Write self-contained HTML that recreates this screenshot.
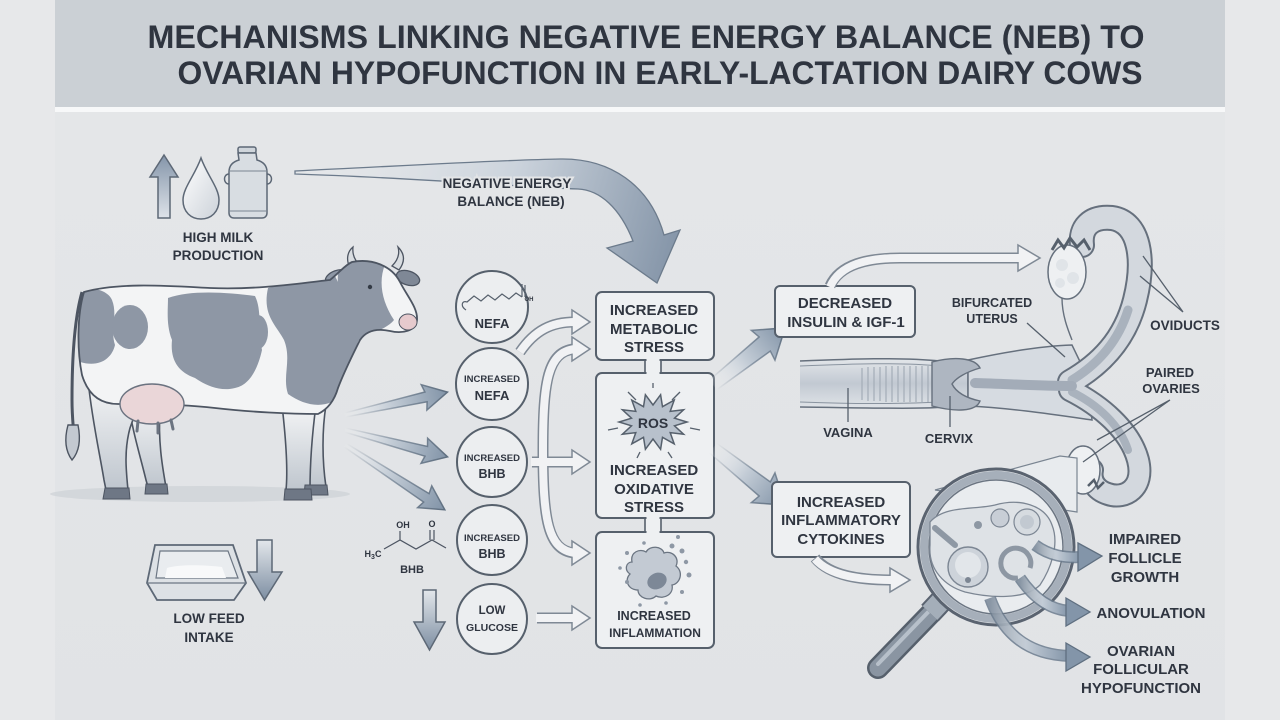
<!DOCTYPE html>
<html><head><meta charset="utf-8"><style>
html,body{margin:0;padding:0;background:#e6e7e9;}
svg{display:block;}
.t{font-family:"Liberation Sans",Arial,sans-serif;font-weight:bold;fill:#2f3540;text-anchor:middle;}
</style></head><body>
<svg width="1280" height="720" viewBox="0 0 1280 720" xmlns="http://www.w3.org/2000/svg">
<defs>
<linearGradient id="ag" x1="0" y1="0" x2="1" y2="0">
<stop offset="0" stop-color="#eef0f2" stop-opacity="0.1"/>
<stop offset="0.45" stop-color="#c3ccd6"/>
<stop offset="1" stop-color="#8193a7"/>
</linearGradient>
<linearGradient id="ags" x1="0" y1="0" x2="1" y2="0">
<stop offset="0" stop-color="#6b7b8d" stop-opacity="0"/>
<stop offset="0.5" stop-color="#6b7b8d" stop-opacity="0.7"/>
<stop offset="1" stop-color="#5f6f80"/>
</linearGradient>
<linearGradient id="negr" gradientUnits="userSpaceOnUse" x1="300" y1="170" x2="665" y2="270">
<stop offset="0" stop-color="#e6e9ec" stop-opacity="0.3"/>
<stop offset="0.55" stop-color="#cbd3dc"/>
<stop offset="1" stop-color="#8797aa"/>
</linearGradient>
<linearGradient id="vg" x1="0" y1="0" x2="0" y2="1">
<stop offset="0" stop-color="#8495a9"/>
<stop offset="1" stop-color="#dde2e8"/>
</linearGradient>
<linearGradient id="vgd" x1="0" y1="0" x2="0" y2="1">
<stop offset="0" stop-color="#e3e7eb"/>
<stop offset="1" stop-color="#7d8ea2"/>
</linearGradient>
<linearGradient id="dropg" x1="0" y1="0" x2="1" y2="1">
<stop offset="0" stop-color="#ffffff"/>
<stop offset="1" stop-color="#ccd2d9"/>
</linearGradient>
<linearGradient id="legg" x1="0" y1="0" x2="0" y2="1">
<stop offset="0" stop-color="#f4f5f6"/>
<stop offset="1" stop-color="#bfc6ce"/>
</linearGradient>
<linearGradient id="tubeg" x1="0" y1="0" x2="0" y2="1">
<stop offset="0" stop-color="#e3e6ea"/>
<stop offset="0.5" stop-color="#c2c9d2"/>
<stop offset="1" stop-color="#e0e4e8"/>
</linearGradient>
<linearGradient id="panel" x1="0" y1="0" x2="0" y2="1">
<stop offset="0" stop-color="#e4e6e8"/>
<stop offset="1" stop-color="#e1e3e6"/>
</linearGradient>
<clipPath id="cowclip"><path d="M84,292 C120,282 170,286 210,288 C260,290 300,283 330,280 C340,272 345,265 352,262 C372,258 392,266 400,282 C407,296 418,308 417,320 C416,331 402,334 390,331 C376,328 366,331 360,340 C352,356 344,372 338,388 C334,402 326,410 318,414 C290,414 250,412 215,408 C190,405 150,404 118,404 C100,404 88,395 82,375 C77,350 77,315 84,292 Z"/></clipPath>
</defs>

<!-- background -->
<rect x="0" y="0" width="1280" height="720" fill="#e7e8ea"/>
<rect x="55" y="112" width="1170" height="608" fill="url(#panel)"/>
<rect x="55" y="0" width="1170" height="107" fill="#cbd0d5"/>
<rect x="55" y="107" width="1170" height="5" fill="#f7f8f9"/>

<!-- title -->
<text class="t" x="646" y="48" font-size="32" textLength="997" lengthAdjust="spacingAndGlyphs" fill="#2e3540">MECHANISMS LINKING NEGATIVE ENERGY BALANCE (NEB) TO</text>
<text class="t" x="660" y="84" font-size="32" textLength="965" lengthAdjust="spacingAndGlyphs" fill="#2e3540">OVARIAN HYPOFUNCTION IN EARLY-LACTATION DAIRY COWS</text>

<!-- milk icons -->
<path d="M164,155 L178,177 L170,177 L170,218 L158,218 L158,177 L150,177 Z" fill="url(#vg)" stroke="#5d6876" stroke-width="1.5"/>
<path d="M201,158 C195,175 183,188 183,200 C183,212 191,219 201,219 C211,219 219,212 219,200 C219,188 207,175 201,158 Z" fill="url(#dropg)" stroke="#5d6876" stroke-width="1.5"/>
<rect x="238" y="147" width="18" height="6" rx="2" fill="#cfd5db" stroke="#5d6876" stroke-width="1.5"/>
<path d="M238,153 L256,153 L257,160 C264,162 267,166 267,172 L267,213 C267,216 265,218 262,218 L234,218 C231,218 229,216 229,213 L229,172 C229,166 232,162 239,160 Z" fill="#d8dde2" stroke="#5d6876" stroke-width="1.5"/>
<path d="M229,174 C223,174 223,184 229,184 M267,174 C273,174 273,184 267,184" fill="none" stroke="#5d6876" stroke-width="1.5"/>
<line x1="229" y1="171" x2="267" y2="171" stroke="#7a8591" stroke-width="1"/>
<line x1="229" y1="211" x2="267" y2="211" stroke="#7a8591" stroke-width="1"/>
<text class="t" x="218" y="242" font-size="13.5">HIGH MILK</text>
<text class="t" x="218" y="260" font-size="13.5">PRODUCTION</text>

<!-- NEB arrow -->
<path d="M295,171 C400,166 500,160 560,159 C610,158 650,185 664,235 L680,230 L657,283 L607,248 L633,241 C620,208 600,190 578,189 C520,187 420,178 295,174 Z" fill="url(#negr)" stroke="#6c7b8c" stroke-width="1.3"/>
<text class="t" x="507" y="188" font-size="13.5" stroke="#e3e5e7" stroke-width="4" paint-order="stroke">NEGATIVE ENERGY</text>
<text class="t" x="511" y="206" font-size="13.5">BALANCE (NEB)</text>

<!-- cow shadow -->
<ellipse cx="200" cy="494" rx="150" ry="8" fill="#cdd1d6" opacity="0.7"/>
<!-- cow legs -->
<g stroke="#4d5562" stroke-width="1.6" fill="url(#legg)">
<path d="M128,400 C132,430 140,455 146,480 L148,487 L166,487 C162,465 158,440 160,410 Z"/>
<path d="M300,405 C302,440 306,465 306,487 L326,487 C322,460 322,430 326,405 Z"/>
<path d="M88,380 C92,420 100,455 104,480 L106,490 L128,490 C126,470 124,450 130,428 L140,400 Z"/>
<path d="M282,405 C286,440 288,470 286,490 L310,490 C310,465 312,435 316,405 Z"/>
</g>
<g fill="#6e7785" stroke="#4d5562" stroke-width="1">
<path d="M105,488 L129,488 L130,499 L103,499 Z"/>
<path d="M146,484 L167,484 L168,494 L145,494 Z"/>
<path d="M305,485 L327,485 L328,495 L304,495 Z"/>
<path d="M285,489 L311,489 L312,500 L284,500 Z"/>
</g>
<!-- tail -->
<path d="M82,292 C74,320 72,360 72,400 C72,420 74,430 74,440" fill="none" stroke="#4d5562" stroke-width="3"/>
<path d="M68,425 C64,440 66,452 72,460 C79,452 81,440 78,425 Z" fill="#c3c9d1" stroke="#4d5562" stroke-width="1.4"/>
<!-- horns & ears -->
<path d="M350,268 C346,260 347,252 353,247 C352,256 356,262 361,266 Z" fill="#d9dde1" stroke="#4d5562" stroke-width="1.3"/>
<path d="M392,266 C398,260 400,254 398,247 C405,254 405,262 399,270 Z" fill="#d9dde1" stroke="#4d5562" stroke-width="1.3"/>
<ellipse cx="337" cy="277" rx="12" ry="6.5" transform="rotate(-20 337 277)" fill="#8e97a5" stroke="#4d5562" stroke-width="1.3"/>
<ellipse cx="408" cy="278" rx="12" ry="7" transform="rotate(18 408 278)" fill="#7f8896" stroke="#4d5562" stroke-width="1.3"/>
<!-- torso -->
<path d="M84,292 C120,282 170,286 210,288 C260,290 300,283 330,280 C340,272 345,265 352,262 C372,258 392,266 400,282 C407,296 418,308 417,320 C416,331 402,334 390,331 C376,328 366,331 360,340 C352,356 344,372 338,388 C334,402 326,410 318,414 C290,414 250,412 215,408 C190,405 150,404 118,404 C100,404 88,395 82,375 C77,350 77,315 84,292 Z" fill="#f3f4f5"/>
<g clip-path="url(#cowclip)" fill="#8e97a5">
<path d="M70,290 C90,285 108,290 112,300 C118,315 110,330 115,345 C112,358 100,368 80,362 Z"/>
<ellipse cx="130" cy="327" rx="18" ry="22"/>
<path d="M168,298 C190,290 225,292 255,296 C262,310 258,330 262,350 C258,368 250,385 235,388 C220,392 205,385 195,378 C178,372 170,360 172,340 C166,325 168,310 168,298 Z"/>
<path d="M268,288 C290,282 320,279 335,276 L362,330 C352,360 342,388 332,402 C318,408 302,404 288,394 C282,376 292,360 284,340 C276,325 262,315 268,288 Z"/>
<path d="M338,272 C350,258 372,256 386,262 C378,280 381,300 394,320 C386,330 370,332 360,342 C348,330 336,300 338,272 Z"/>
<ellipse cx="258" cy="332" rx="10" ry="17"/>
</g>
<path d="M84,292 C120,282 170,286 210,288 C260,290 300,283 330,280 C340,272 345,265 352,262 C372,258 392,266 400,282 C407,296 418,308 417,320 C416,331 402,334 390,331 C376,328 366,331 360,340 C352,356 344,372 338,388 C334,402 326,410 318,414 C290,414 250,412 215,408 C190,405 150,404 118,404 C100,404 88,395 82,375 C77,350 77,315 84,292 Z" fill="none" stroke="#4d5562" stroke-width="1.8"/>
<ellipse cx="408" cy="322" rx="9" ry="8" fill="#e6cacd" stroke="#4d5562" stroke-width="1"/>
<circle cx="370" cy="287" r="2.2" fill="#333a45"/>
<ellipse cx="152" cy="404" rx="32" ry="20" fill="#ead6d8" stroke="#6b7380" stroke-width="1.4"/>
<path d="M138,421 L137,431 M158,423 L158,433 M171,420 L173,429" stroke="#6b7380" stroke-width="3" stroke-linecap="round"/>

<!-- cow arrows -->
<g fill="url(#ag)" stroke="url(#ags)" stroke-width="1.5">
<path transform="translate(345,415) rotate(-12.6)" d="M0,-2 L83,-5 L81,-13 L105,0 L81,13 L83,5 L0,2 Z"/>
<path transform="translate(345,430) rotate(14.7)" d="M0,-2 L84,-5 L82,-13 L106,0 L82,13 L84,5 L0,2 Z"/>
<path transform="translate(345,445) rotate(33)" d="M0,-2 L97,-5 L95,-13 L119,0 L95,13 L97,5 L0,2 Z"/>
</g>

<!-- feed tray -->
<path d="M155,545 L233,545 L246,583 L234,600 L157,600 L147,583 Z" fill="#dde1e5" stroke="#5d6876" stroke-width="1.8"/>
<path d="M160,551 L228,551 L238,578 L156,578 Z" fill="#e9ecef" stroke="#6d7784" stroke-width="1.2"/>
<path d="M165,578 L167,568 C180,564 205,565 222,567 L226,578 Z" fill="#f8f9fa"/>
<line x1="147" y1="583" x2="246" y2="583" stroke="#6d7784" stroke-width="1.2"/>
<path d="M257,540 L272,540 L272,572 L282,572 L264.5,600 L248,572 L257,572 Z" fill="url(#vgd)" stroke="#5d6876" stroke-width="1.5"/>
<text class="t" x="209" y="623" font-size="13.5">LOW FEED</text>
<text class="t" x="209" y="642" font-size="13.5">INTAKE</text>

<!-- BHB chem -->
<path d="M384,549 L400,540 L416,549 L432,540 L446,548 M400,540 L400,531 M430,540 L430,530 M434,540 L434,530" fill="none" stroke="#4d5562" stroke-width="1.2"/>
<text class="t" x="403" y="528" font-size="9">OH</text>
<text class="t" x="432" y="527" font-size="9">O</text>
<text class="t" x="373" y="557" font-size="9">H<tspan font-size="7" dy="2">3</tspan><tspan dy="-2">C</tspan></text>
<text class="t" x="412" y="573" font-size="11">BHB</text>
<path d="M423,590 L436,590 L436,622 L445,622 L429.5,650 L414,622 L423,622 Z" fill="url(#vgd)" stroke="#5d6876" stroke-width="1.5"/>

<!-- circles -->
<g fill="#eceef0" stroke="#56606c" stroke-width="2">
<circle cx="492" cy="307" r="36"/>
<circle cx="492" cy="384" r="36"/>
<circle cx="492" cy="462" r="35"/>
<circle cx="492" cy="540" r="35"/>
<circle cx="492" cy="619" r="35"/>
</g>
<path d="M466,310 C460,306 462,300 467,302 L474,296 L481,301 L488,295 L495,300 L502,294 L509,299 L516,293 L522,297 M522,297 L522,284 M525,297 L525,285" fill="none" stroke="#56606c" stroke-width="1.2"/>
<text class="t" x="529" y="301" font-size="6">OH</text>
<text class="t" x="492" y="328" font-size="13">NEFA</text>
<text class="t" x="492" y="382" font-size="9.5">INCREASED</text>
<text class="t" x="492" y="400" font-size="13">NEFA</text>
<text class="t" x="492" y="461" font-size="9.5">INCREASED</text>
<text class="t" x="492" y="478" font-size="12.5">BHB</text>
<text class="t" x="492" y="541" font-size="9.5">INCREASED</text>
<text class="t" x="492" y="558" font-size="12.5">BHB</text>
<text class="t" x="492" y="614" font-size="11.5">LOW</text>
<text class="t" x="492" y="631" font-size="10.5">GLUCOSE</text>

<!-- hollow arrows left -->
<g fill="none" stroke="#7f8995" stroke-width="11">
<path d="M520,352 C535,330 552,322 574,322"/>
<path d="M574,349 C548,352 543,380 543,450 C543,520 548,550 574,553"/>
<path d="M532,462 L574,462"/>
<path d="M537,618 L574,618"/>
</g>
<g fill="#f1f2f4" stroke="#7f8995" stroke-width="1.5">
<path d="M572,310 L590,322 L572,334 Z"/>
<path d="M572,337 L590,349 L572,361 Z"/>
<path d="M572,541 L590,553 L572,565 Z"/>
<path d="M572,450 L590,462 L572,474 Z"/>
<path d="M572,606 L590,618 L572,630 Z"/>
</g>
<g fill="none" stroke="#f1f2f4" stroke-width="8">
<path d="M520,352 C535,330 552,322 575,322"/>
<path d="M575,349 C548,352 543,380 543,450 C543,520 548,550 575,553"/>
<path d="M531,462 L575,462"/>
<path d="M536,618 L575,618"/>
</g>

<!-- connectors -->
<rect x="645" y="356" width="16" height="20" fill="#eef0f2" stroke="#56606c" stroke-width="1.6"/>
<rect x="645" y="514" width="16" height="21" fill="#eef0f2" stroke="#56606c" stroke-width="1.6"/>
<!-- boxes -->
<g fill="#eef0f2" stroke="#56606c" stroke-width="2">
<rect x="596" y="292" width="118" height="68" rx="6"/>
<rect x="596" y="373" width="118" height="145" rx="6"/>
<rect x="596" y="532" width="118" height="116" rx="6"/>
</g>
<rect x="646.5" y="358" width="13" height="17" fill="#eef0f2"/>
<rect x="646.5" y="516" width="13" height="18" fill="#eef0f2"/>
<text class="t" x="654" y="315" font-size="15">INCREASED</text>
<text class="t" x="654" y="334" font-size="15">METABOLIC</text>
<text class="t" x="654" y="352" font-size="15">STRESS</text>

<!-- ROS -->
<g stroke="#56606c" stroke-width="1.3">
<line x1="628" y1="392" x2="636" y2="400"/><line x1="680" y1="392" x2="672" y2="400"/>
<line x1="618" y1="428" x2="608" y2="430"/><line x1="690" y1="428" x2="700" y2="430"/>
<line x1="640" y1="452" x2="637" y2="458"/><line x1="668" y1="452" x2="672" y2="458"/>
<line x1="653" y1="388" x2="653" y2="383"/>
</g>
<path d="M687,422 L674.5,425.8 L683.6,434.2 L670.2,432.6 L674.2,443.9 L662.5,437.3 L660.6,449.3 L653,439 L645.4,449.3 L643.5,437.3 L631.8,443.9 L635.8,432.6 L622.4,434.2 L631.5,425.8 L619,422 L631.5,418.2 L622.4,409.8 L635.8,411.4 L631.8,400.1 L643.5,406.7 L645.4,394.7 L653,405 L660.6,394.7 L662.5,406.7 L674.2,400.1 L670.2,411.4 L683.6,409.8 L674.5,418.2 Z" fill="#b8c1cc" stroke="#56606c" stroke-width="1.5"/>
<text class="t" x="653" y="428" font-size="14">ROS</text>
<text class="t" x="654" y="475" font-size="15">INCREASED</text>
<text class="t" x="654" y="494" font-size="15">OXIDATIVE</text>
<text class="t" x="654" y="512" font-size="15">STRESS</text>

<!-- cell -->
<path d="M632,562 C630,552 640,548 646,552 C650,545 662,546 664,553 C672,550 680,558 676,566 C684,572 680,584 672,585 C674,594 664,600 656,596 C650,602 638,598 638,590 C628,590 624,580 630,574 C624,570 626,562 632,562 Z" fill="#c3cad3" stroke="#6b7582" stroke-width="1.3"/>
<ellipse cx="657" cy="581" rx="10" ry="8" transform="rotate(-25 657 581)" fill="#7d8897"/>
<g fill="#8e98a5">
<circle cx="627" cy="553" r="2"/><circle cx="644" cy="543" r="1.8"/><circle cx="672" cy="546" r="2.5"/><circle cx="682" cy="551" r="2.5"/>
<circle cx="686" cy="562" r="2.2"/><circle cx="689" cy="575" r="2.5"/><circle cx="682" cy="592" r="2"/><circle cx="666" cy="603" r="1.8"/>
<circle cx="627" cy="582" r="2"/><circle cx="620" cy="568" r="1.8"/><circle cx="640" cy="605" r="1.8"/><circle cx="678" cy="537" r="2"/>
</g>
<text class="t" x="654" y="620" font-size="12.5">INCREASED</text>
<text class="t" x="655" y="637" font-size="12">INFLAMMATION</text>

<!-- box2 to right arrows -->
<g fill="url(#ag)" stroke="url(#ags)" stroke-width="1.5">
<path transform="translate(713,385) rotate(-38.4)" d="M0,-6 L66,-9 L64,-19 L92,0 L64,19 L66,9 L0,6 Z"/>
<path transform="translate(713,448) rotate(38.4)" d="M0,-6 L66,-9 L64,-19 L92,0 L64,19 L66,9 L0,6 Z"/>
</g>

<!-- right boxes -->
<rect x="775" y="286" width="140" height="51" rx="5" fill="#eef0f2" stroke="#56606c" stroke-width="2"/>
<text class="t" x="845" y="308" font-size="15">DECREASED</text>
<text class="t" x="846" y="327" font-size="15">INSULIN &amp; IGF-1</text>
<rect x="772" y="482" width="138" height="75" rx="5" fill="#eef0f2" stroke="#56606c" stroke-width="2"/>
<text class="t" x="841" y="507" font-size="15">INCREASED</text>
<text class="t" x="841" y="525" font-size="15">INFLAMMATORY</text>
<text class="t" x="841" y="544" font-size="15">CYTOKINES</text>

<!-- hollow arrows right -->
<g fill="none" stroke="#7f8995" stroke-width="11">
<path d="M830,286 C840,264 868,258 900,258 L1020,258"/>
<path d="M815,558 C830,576 860,580 892,580"/>
</g>
<g fill="#f1f2f4" stroke="#7f8995" stroke-width="1.5">
<path d="M1018,245 L1040,258 L1018,271 Z"/>
<path d="M890,568 L910,580 L890,592 Z"/>
</g>
<g fill="none" stroke="#f1f2f4" stroke-width="8">
<path d="M830,287 C840,264 868,258 900,258 L1021,258"/>
<path d="M815,559 C830,576 860,580 893,580"/>
</g>

<!-- reproductive tract -->
<path d="M800,361 C850,359 900,357 940,361 L968,364 L968,405 C930,410 880,408 800,407" fill="url(#tubeg)" stroke="#66707d" stroke-width="1.5"/>
<path d="M800,366 C850,364 900,362 940,366 M800,402 C850,404 900,404 940,402" fill="none" stroke="#8a94a0" stroke-width="1"/>
<g stroke="#a3acb7" stroke-width="1.2">
<line x1="862" y1="368" x2="862" y2="400"/><line x1="868" y1="367" x2="868" y2="401"/><line x1="874" y1="367" x2="874" y2="401"/>
<line x1="880" y1="367" x2="880" y2="401"/><line x1="886" y1="366" x2="886" y2="402"/><line x1="892" y1="366" x2="892" y2="402"/>
<line x1="898" y1="366" x2="898" y2="402"/><line x1="904" y1="366" x2="904" y2="402"/><line x1="910" y1="366" x2="910" y2="402"/>
<line x1="916" y1="366" x2="916" y2="402"/><line x1="922" y1="366" x2="922" y2="402"/><line x1="928" y1="366" x2="928" y2="402"/>
</g>
<path d="M968,360 C1005,352 1040,346 1072,345 L1085,372 L1090,400 L1092,420 C1050,414 1010,408 968,406 Z" fill="#d6dbe1" stroke="#66707d" stroke-width="1.5"/>
<path d="M932,362 C955,356 975,358 980,368 C966,372 956,378 952,384 C956,392 966,398 980,401 C976,412 955,412 932,406 Z" fill="#aeb6c1" stroke="#66707d" stroke-width="1.4"/>
<g fill="none" stroke-linecap="round">
<path d="M1070,382 C1100,365 1125,340 1135,300 C1145,260 1140,222 1112,218 C1090,216 1080,228 1082,245" stroke="#66707d" stroke-width="26"/>
<path d="M1070,390 C1100,405 1130,430 1138,460 C1145,488 1125,500 1108,494 C1095,490 1090,480 1092,470" stroke="#66707d" stroke-width="24"/>
<path d="M1070,382 C1100,365 1125,340 1135,300 C1145,260 1140,222 1112,218 C1090,216 1080,228 1082,245" stroke="#d3d8de" stroke-width="22"/>
<path d="M1070,390 C1100,405 1130,430 1138,460 C1145,488 1125,500 1108,494 C1095,490 1090,480 1092,470" stroke="#d3d8de" stroke-width="20"/>
<path d="M1072,380 C1098,364 1118,342 1128,310" stroke="#a9b2bd" stroke-width="9"/>
<path d="M1072,392 C1098,405 1120,425 1128,450" stroke="#a9b2bd" stroke-width="8"/>
<path d="M975,383 C1010,384 1040,386 1072,386" stroke="#a3acb8" stroke-width="10"/>
</g>
<path d="M1062,298 C1062,315 1068,330 1072,340" fill="none" stroke="#66707d" stroke-width="1.4"/>
<ellipse cx="1067" cy="272" rx="19" ry="27" fill="#eef0f2" stroke="#66707d" stroke-width="1.5"/>
<g fill="#e0e4e8"><circle cx="1062" cy="265" r="6"/><circle cx="1073" cy="278" r="6"/><circle cx="1060" cy="283" r="5"/></g>
<path d="M1052,250 L1058,240 L1064,248 L1070,238 L1077,247 L1084,240 L1090,250" fill="none" stroke="#56606c" stroke-width="3"/>
<ellipse cx="1083" cy="470" rx="17" ry="24" fill="#eef0f2" stroke="#66707d" stroke-width="1.5"/>
<path d="M1088,486 L1094,480 L1098,488 L1104,482" fill="none" stroke="#56606c" stroke-width="2.5"/>
<!-- labels -->
<g stroke="#56606c" stroke-width="1.3" fill="none">
<path d="M1027,323 L1065,357"/>
<path d="M1183,312 L1143,256 M1183,312 L1140,276"/>
<path d="M1170,400 L1083,462 M1170,400 L1097,440"/>
<path d="M848,388 L848,422"/>
<path d="M950,396 L950,427"/>
</g>
<text class="t" x="992" y="307" font-size="12.5" fill="#454c57">BIFURCATED</text>
<text class="t" x="992" y="323" font-size="12.5" fill="#454c57">UTERUS</text>
<text class="t" x="1185" y="330" font-size="13.5" fill="#454c57">OVIDUCTS</text>
<text class="t" x="1170" y="377" font-size="13" fill="#454c57">PAIRED</text>
<text class="t" x="1171" y="393" font-size="13" fill="#454c57">OVARIES</text>
<text class="t" x="848" y="437" font-size="13" fill="#454c57">VAGINA</text>
<text class="t" x="949" y="443" font-size="13" fill="#454c57">CERVIX</text>

<!-- magnifier -->
<path d="M935,490 L1060,456 L1077,458 L1077,512 Z" fill="#e8ebee" stroke="#7a8592" stroke-width="1.2"/>
<line x1="938" y1="606" x2="878" y2="668" stroke="#56606c" stroke-width="22" stroke-linecap="round"/>
<line x1="938" y1="606" x2="878" y2="668" stroke="#8a95a2" stroke-width="17" stroke-linecap="round"/>
<line x1="934" y1="606" x2="878" y2="664" stroke="#b7c0ca" stroke-width="4" stroke-linecap="round"/>
<line x1="944" y1="598" x2="930" y2="613" stroke="#5a6370" stroke-width="24"/>
<line x1="944" y1="598" x2="930" y2="613" stroke="#a4aeb9" stroke-width="20"/>
<circle cx="996" cy="547" r="78" fill="#e2e5e8" stroke="#5a6370" stroke-width="3"/>
<circle cx="996" cy="547" r="72" fill="none" stroke="#a6afba" stroke-width="8"/>
<circle cx="996" cy="547" r="67" fill="#e9ecef" stroke="#6b7582" stroke-width="1.5"/>
<path d="M930,522 C945,505 975,510 995,505 C1020,498 1045,505 1052,525 C1060,545 1050,570 1040,585 C1025,600 990,598 965,592 C945,586 928,570 930,545 Z" fill="#dee2e6" stroke="#7c8693" stroke-width="1.3"/>
<line x1="935" y1="528" x2="955" y2="545" stroke="#8e98a4" stroke-width="6" stroke-linecap="round"/>
<circle cx="968" cy="567" r="20" fill="#cdd3da" stroke="#7c8693" stroke-width="1.4"/>
<circle cx="968" cy="565" r="13" fill="#e2e6ea"/>
<circle cx="968" cy="580" r="3" fill="#7c8693"/>
<path d="M1030,568 A15,15 0 1 0 1018,578" fill="none" stroke="#8d97a3" stroke-width="5"/>
<circle cx="1000" cy="518" r="9" fill="#c8ced6" stroke="#7c8693" stroke-width="1.2"/>
<circle cx="1027" cy="522" r="13" fill="#d6dbe0" stroke="#7c8693" stroke-width="1.2"/>
<circle cx="1027" cy="522" r="7" fill="#c2c9d1"/>
<circle cx="978" cy="525" r="4" fill="#8d97a3"/>

<!-- outcome arrows -->
<g fill="none" stroke-linecap="butt">
<path d="M1035,545 C1050,556 1065,558 1082,557" stroke="#6b7b8d" stroke-width="12" opacity="0.85"/>
<path d="M1035,545 C1050,556 1065,558 1082,557" stroke="url(#ag)" stroke-width="9"/>
<path d="M1020,578 C1035,600 1052,610 1070,611" stroke="#6b7b8d" stroke-width="12" opacity="0.85"/>
<path d="M1020,578 C1035,600 1052,610 1070,611" stroke="url(#ag)" stroke-width="9"/>
<path d="M990,598 C1005,640 1035,655 1070,656" stroke="#6b7b8d" stroke-width="12" opacity="0.85"/>
<path d="M990,598 C1005,640 1035,655 1070,656" stroke="url(#ag)" stroke-width="9"/>
</g>
<g fill="#8395a9" stroke="#5f6f80" stroke-width="1.3">
<path d="M1078,543 L1102,556 L1078,571 Z"/>
<path d="M1066,598 L1090,612 L1066,626 Z"/>
<path d="M1066,643 L1090,657 L1066,671 Z"/>
</g>
<text class="t" x="1145" y="544" font-size="15">IMPAIRED</text>
<text class="t" x="1145" y="563" font-size="15">FOLLICLE</text>
<text class="t" x="1145" y="582" font-size="15">GROWTH</text>
<text class="t" x="1151" y="618" font-size="15">ANOVULATION</text>
<text class="t" x="1141" y="656" font-size="15">OVARIAN</text>
<text class="t" x="1141" y="674" font-size="15">FOLLICULAR</text>
<text class="t" x="1141" y="693" font-size="15">HYPOFUNCTION</text>
</svg>
</body></html>
